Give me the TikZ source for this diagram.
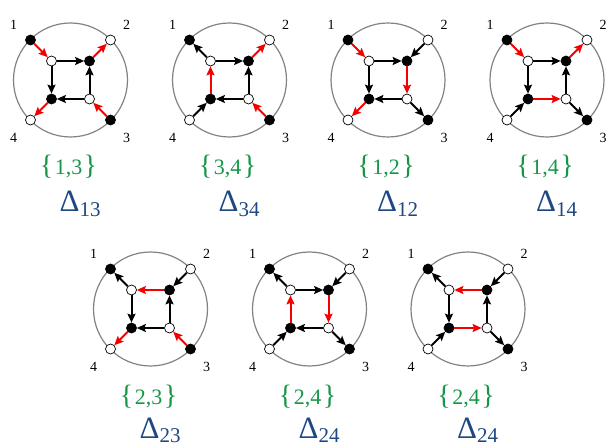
\documentclass[tikz,border=0pt]{standalone}
\usepackage{fontspec}
\setmainfont{Liberation Serif}
\usetikzlibrary{arrows.meta}
\definecolor{grn}{RGB}{20,150,70}
\definecolor{blu}{RGB}{30,72,130}
\definecolor{rimc}{RGB}{130,130,130}
\definecolor{myred}{RGB}{245,0,0}
\newcommand\bigbr{\fontsize{28}{28}\selectfont}
\newcommand\mydiag[6]{%
\begin{scope}[shift={(#1,#2)}]
\draw[rimline] (0,0) circle[radius=57pt];
\node[bv] (#3o1) at (-40,-40) {};
\node[wv] (#3o2) at (40,-40) {};
\node[bv] (#3o3) at (40,40) {};
\node[wv] (#3o4) at (-40,40) {};
\node[wv] (#3a) at (-19,-19) {};
\node[bv] (#3b) at (19,-19) {};
\node[wv] (#3c) at (19,19) {};
\node[bv] (#3d) at (-19,19) {};
\node[lab] (#3n1) at (-57,-55) {1};
\node[lab] (#3n2) at (56,-55) {2};
\node[lab] (#3n3) at (56,58) {3};
\node[lab] (#3n4) at (-57,58) {4};
\node[setlab] (#3s) at (-2,95) {{\bigbr\{}\hspace{1.5pt}#4\hspace{1.5pt}{\bigbr\}}};
\node[dlab] (#3t) at (-11,#6) {Δ\raisebox{-5pt}{\fontsize{21}{21}\selectfont #5}};
\end{scope}}
\begin{document}
\begin{tikzpicture}[x=1pt,y=-1pt,
  bv/.style={circle,draw=black,fill=black,line width=0.7pt,minimum size=10pt,inner sep=0pt},
  wv/.style={circle,draw=black,fill=white,line width=0.7pt,minimum size=10pt,inner sep=0pt},
  rimline/.style={draw=rimc,line width=1.2pt},
  lab/.style={font=\fontsize{14}{14}\selectfont,inner sep=0pt},
  setlab/.style={anchor=base,inner sep=0pt,text=grn,font=\fontsize{22}{22}\selectfont},
  dlab/.style={anchor=base west,inner sep=0pt,text=blu,font=\fontsize{31}{31}\selectfont},
  bk/.style={draw=black,line width=2pt,-{Stealth[length=9pt,width=8pt,inset=1.5pt]}},
  rd/.style={draw=myred,line width=2pt,-{Stealth[length=9pt,width=8pt,inset=1.5pt]}}]
\useasboundingbox (0,0) rectangle (608,446);
% row 1
\mydiag{70.5}{80}{P}{1,3}{13}{132}
\draw[rd] (Po1) -- (Pa);
\draw[bk] (Pa) -- (Pb);
\draw[bk] (Pa) -- (Pd);
\draw[bk] (Pc) -- (Pb);
\draw[bk] (Pc) -- (Pd);
\draw[rd] (Pb) -- (Po2);
\draw[rd] (Pd) -- (Po4);
\draw[rd] (Po3) -- (Pc);
\mydiag{229.5}{80}{Q}{3,4}{34}{132}
\draw[bk] (Qa) -- (Qo1);
\draw[bk] (Qa) -- (Qb);
\draw[rd] (Qd) -- (Qa);
\draw[bk] (Qc) -- (Qb);
\draw[bk] (Qc) -- (Qd);
\draw[rd] (Qb) -- (Qo2);
\draw[bk] (Qo4) -- (Qd);
\draw[rd] (Qo3) -- (Qc);
\mydiag{388}{80}{R}{1,2}{12}{132}
\draw[rd] (Ro1) -- (Ra);
\draw[bk] (Ra) -- (Rb);
\draw[bk] (Ra) -- (Rd);
\draw[bk] (Ro2) -- (Rb);
\draw[rd] (Rb) -- (Rc);
\draw[bk] (Rc) -- (Rd);
\draw[rd] (Rd) -- (Ro4);
\draw[bk] (Rc) -- (Ro3);
\mydiag{547}{80}{S}{1,4}{14}{132}
\draw[rd] (So1) -- (Sa);
\draw[bk] (Sa) -- (Sb);
\draw[bk] (Sa) -- (Sd);
\draw[bk] (Sc) -- (Sb);
\draw[rd] (Sb) -- (So2);
\draw[rd] (Sd) -- (Sc);
\draw[bk] (So4) -- (Sd);
\draw[bk] (Sc) -- (So3);
% row 2
\mydiag{150.5}{309}{T}{2,3}{23}{129}
\draw[bk] (Ta) -- (To1);
\draw[rd] (Tb) -- (Ta);
\draw[bk] (Ta) -- (Td);
\draw[bk] (To2) -- (Tb);
\draw[bk] (Tc) -- (Tb);
\draw[bk] (Tc) -- (Td);
\draw[rd] (Td) -- (To4);
\draw[rd] (To3) -- (Tc);
\mydiag{309.5}{309}{U}{2,4}{24}{129}
\draw[bk] (Ua) -- (Uo1);
\draw[bk] (Ua) -- (Ub);
\draw[bk] (Uo2) -- (Ub);
\draw[rd] (Ub) -- (Uc);
\draw[rd] (Ud) -- (Ua);
\draw[bk] (Uc) -- (Ud);
\draw[bk] (Uo4) -- (Ud);
\draw[bk] (Uc) -- (Uo3);
\mydiag{468}{309}{V}{2,4}{24}{129}
\draw[bk] (Va) -- (Vo1);
\draw[rd] (Vb) -- (Va);
\draw[bk] (Va) -- (Vd);
\draw[bk] (Vo2) -- (Vb);
\draw[bk] (Vc) -- (Vb);
\draw[rd] (Vd) -- (Vc);
\draw[bk] (Vo4) -- (Vd);
\draw[bk] (Vc) -- (Vo3);
\end{tikzpicture}
\end{document}
